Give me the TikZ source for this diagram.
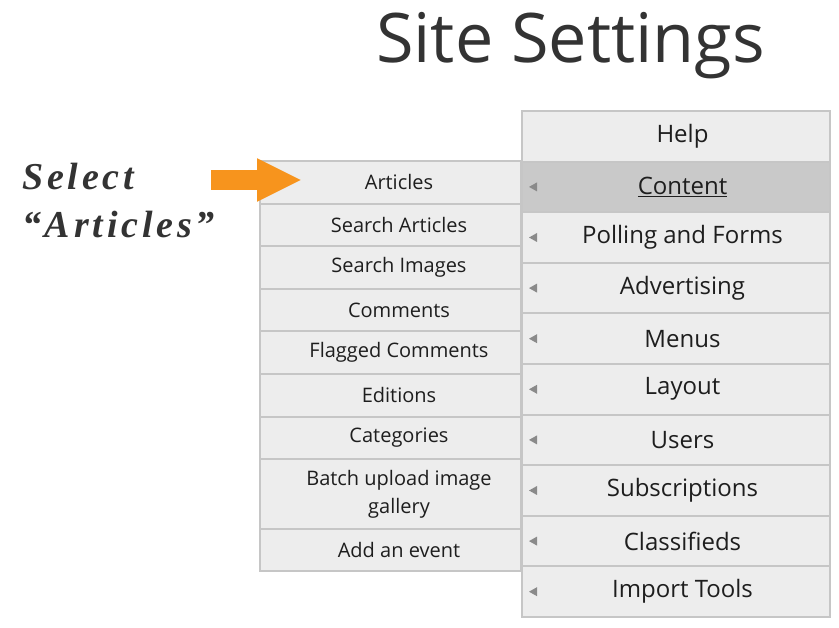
\documentclass[tikz,border=0pt]{standalone}
\usepackage{fontspec}
\setmainfont{Open Sans}
\newfontfamily\selfont[LetterSpace=10]{Liberation Serif}
\usetikzlibrary{arrows.meta}
\definecolor{rowbg}{HTML}{EDEDED}
\definecolor{rowsel}{HTML}{C9C9C9}
\definecolor{rowline}{HTML}{C6C6C6}
\definecolor{txt}{HTML}{1E1E1E}
\definecolor{titletxt}{HTML}{333333}
\definecolor{arrorange}{HTML}{F7941D}
\definecolor{tri}{HTML}{8A8A8A}
\begin{document}
\begin{tikzpicture}[x=1pt,y=-1pt,
  rrow/.style={draw=rowline, line width=2pt, fill=rowbg, minimum width=308pt,
    minimum height=50.6pt, inner sep=0pt, anchor=north west,
    font=\fontsize{24}{28}\selectfont, text=txt,
    execute at begin node=\hspace*{13pt}},
  lrow/.style={draw=rowline, line width=2pt, fill=rowbg, minimum width=261pt,
    minimum height=42.6pt, inner sep=0pt, anchor=north west,
    font=\fontsize{20}{28}\selectfont, text=txt, align=center,
    execute at begin node=\hspace*{17pt}},
  marker/.style={fill=tri},
  selstyle/.style={anchor=base west, inner sep=0pt, text=titletxt,
    font=\fontsize{38}{44}\selfont\bfseries\itshape}]
\useasboundingbox (0,0) rectangle (839,628);
% title
\node[anchor=base, inner sep=0pt, text=titletxt, font=\fontsize{68.4}{78}\selectfont] (title) at (570.5,63) {Site Settings};
% label
\node[selstyle] (sel1) at (22,190) {Select};
\node[selstyle] (sel2) at (22,238) {“Articles”};
% left panel
\node[lrow] (articles) at (259,160) {Articles};
\node[lrow] (searcharticles) at (259,202.6) {Search Articles};
\node[lrow] (searchimages) at (259,245.2) {Search Images};
\node[lrow] (comments) at (259,287.8) {Comments};
\node[lrow] (flagged) at (259,330.4) {Flagged Comments};
\node[lrow] (editions) at (259,373) {Editions};
\node[lrow] (categories) at (259,415.6) {Categories};
\node[lrow, minimum height=69.6pt] (batch) at (259,458.2) {Batch upload image\\gallery};
\node[lrow] (addevent) at (259,527.8) {Add an event};
% right panel
\node[rrow] (help) at (521,110) {Help};
\node[rrow, fill=rowsel] (content) at (521,160.6) {\underline{Content}};
\node[rrow] (polling) at (521,211.2) {Polling and Forms};
\node[rrow] (advertising) at (521,261.8) {Advertising};
\node[rrow] (menus) at (521,312.4) {Menus};
\node[rrow] (layout) at (521,363) {Layout};
\node[rrow] (users) at (521,413.6) {Users};
\node[rrow] (subscriptions) at (521,464.2) {Subscriptions};
\node[rrow] (classifieds) at (521,514.8) {Classifieds};
\node[rrow] (importtools) at (521,565.4) {Import Tools};
% markers
\foreach \n in {content,polling,advertising,menus,layout,users,subscriptions,classifieds,importtools}{
  \fill[marker] ([xshift=8pt]\n.west) -- ++(8,-4.5) -- ++(0,9) -- cycle;
}
% arrow
\coordinate (arrS) at (211,180);
\coordinate (arrT) at (302,180);
\draw[arrorange, line width=20pt, -{Triangle[length=45pt,width=40pt]}] (arrS) -- (arrT);
\end{tikzpicture}
\end{document}
